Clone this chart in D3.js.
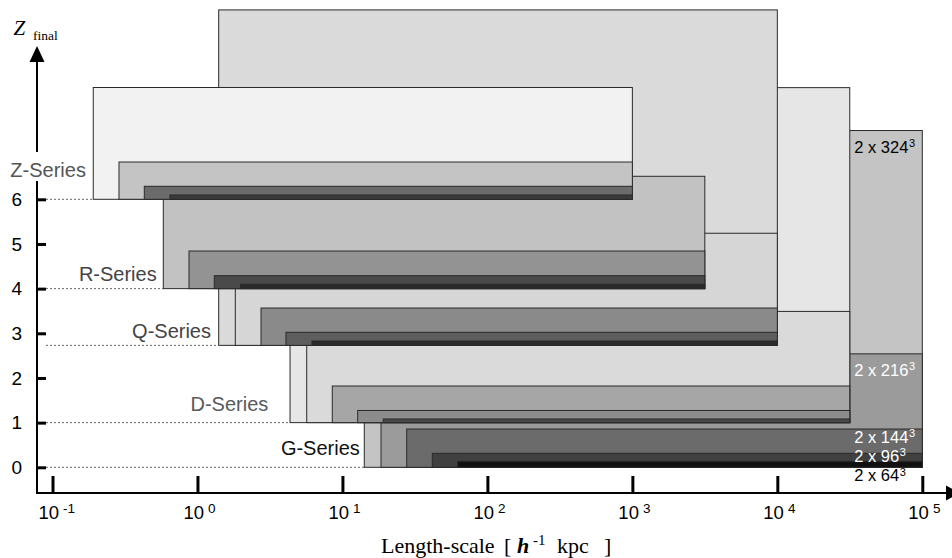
<!DOCTYPE html>
<html>
<head>
<meta charset="utf-8">
<script src="https://cdn.jsdelivr.net/npm/d3@7"></script>
<style>
  html, body { margin: 0; padding: 0; background: #fff; }
  svg { display: block; }
</style>
</head>
<body>
<svg id="chart" width="952" height="558"></svg>
<script>
// ---------------- DATA ----------------
const seriesNames = ["G-Series", "D-Series", "Q-Series", "R-Series", "Z-Series"];
const baselines   = [0, 1, 2.73, 4, 6];                       // Z_final
const boxSizes    = [1e5, 31600, 1e4, 3160, 1e3];             // h^-1 kpc (right edge)
const resolutions = ["2 x 324", "2 x 216", "2 x 144", "2 x 96", "2 x 64"];

// left edge (softening length, h^-1 kpc) per resolution 324,216,144,96,64
const gLeft = [14.15, 18.45, 27.76, 41.69, 62.40];
const dLeft = [4.35, 5.67, 8.51, 12.74, 19.13];
const qLeft = [1.401, 1.824, 2.743, 4.080, 6.166];
const rLeft = [null, 0.581, 0.874, 1.306, 1.987];
const zLeft = [null, 0.191, 0.2875, 0.4297, 0.646];

// top of each box (Z)
const gTop = [7.54, 2.54, 0.857, 0.313, 0.134];
const dTop = [8.50, 3.49, 1.82, 1.272, 1.081];
const qTop = [10.24, 5.24, 3.566, 3.022, 2.828];
const rTop = [null, 6.515, 4.842, 4.290, 4.097];
const zTop = [null, 8.503, 6.835, 6.291, 6.096];

const yTicks = [0, 1, 2, 3, 4, 5, 6];
const xTickExps = [-1, 0, 1, 2, 3, 4, 5];

// ---------------- STYLES ----------------
const gFill = ["#c4c4c4", "#9b9b9b", "#6b6b6b", "#404040", "#111111"];
const dFill = ["#e6e6e6", "#dadada", "#a6a6a6", "#8c8c8c", "#4a4a4a"];
const qFill = ["#dadada", "#d6d6d6", "#8a8a8a", "#5e5e5e", "#2a2a2a"];
const rFill = [null, "#c2c2c2", "#939393", "#4a4a4a", "#2a2a2a"];
const zFill = [null, "#f2f2f2", "#c4c4c4", "#6b6b6b", "#3a3a3a"];
const labelColors = ["#111", "#5a5a5a", "#444", "#444", "#555"];
const labelOffsets = [[-4.5, -12.3], [-21.7, -11.3], [-7.7, -7], [-6.6, -7.7], [-7.3, -22.6]];
const resLabelColors = ["#000", "#fff", "#fff", "#fff", "#000"];
const resLabelY = [152.5, 375.5, 442.5, 461.5, 481];

const lefts = [gLeft, dLeft, qLeft, rLeft, zLeft];
const tops  = [gTop, dTop, qTop, rTop, zTop];
const fills = [gFill, dFill, qFill, rFill, zFill];

// ---------------- SCALES ----------------
const svg = d3.select("#chart");
const x = d3.scaleLog().domain([0.1, 1e5]).range([52.5, 922.3]);
const y = d3.scaleLinear().domain([0, 6]).range([467.3, 199.3]);
const AX_X = 37, AX_Y = 493;

// ---------------- BOXES ----------------
const boxes = [];
seriesNames.forEach((name, s) => {
  lefts[s].forEach((l, r) => {
    if (l == null) return;
    boxes.push({ s, r, left: l, right: boxSizes[s], top: tops[s][r], base: baselines[s], fill: fills[s][r] });
  });
});

svg.append("g").selectAll("rect").data(boxes).join("rect")
  .attr("x", d => x(d.left))
  .attr("y", d => y(d.top))
  .attr("width", d => x(d.right) - x(d.left))
  .attr("height", d => y(d.base) - y(d.top))
  .attr("fill", d => d.fill)
  .attr("stroke", "#2a2a2a")
  .attr("stroke-width", 1);

// dotted baselines
svg.append("g").selectAll("line").data(seriesNames).join("line")
  .attr("x1", AX_X + 9)
  .attr("x2", (d, i) => x(d3.min(lefts[i].filter(v => v != null))))
  .attr("y1", (d, i) => y(baselines[i]))
  .attr("y2", (d, i) => y(baselines[i]))
  .attr("stroke", "#666")
  .attr("stroke-width", 1)
  .attr("stroke-dasharray", "2,2");

// ---------------- AXES ----------------
svg.append("line").attr("x1", AX_X).attr("x2", AX_X).attr("y1", AX_Y + 1).attr("y2", 60)
  .attr("stroke", "#000").attr("stroke-width", 2);
svg.append("path").attr("d", `M${AX_X},46 L${AX_X - 7.5},62 L${AX_X + 7.5},62 Z`).attr("fill", "#000");
svg.append("line").attr("x1", AX_X - 1).attr("x2", 947).attr("y1", AX_Y).attr("y2", AX_Y)
  .attr("stroke", "#000").attr("stroke-width", 2);
svg.append("path").attr("d", `M946,${AX_Y - 7.5} L946,${AX_Y + 7.5} L960,${AX_Y} Z`).attr("fill", "#000");

const yAxis = svg.append("g").attr("transform", `translate(${AX_X},0)`)
  .call(d3.axisLeft(y).tickValues(yTicks).tickSize(-9).tickPadding(15).tickFormat(d3.format("d")));
yAxis.select(".domain").remove();
yAxis.selectAll(".tick line").attr("stroke", "#000").attr("stroke-width", 3);
yAxis.selectAll(".tick text").attr("font-family", "Liberation Sans, Arial, sans-serif")
  .attr("font-size", 19).attr("fill", "#000");

const xAxis = svg.append("g").attr("transform", `translate(0,${AX_Y})`)
  .call(d3.axisBottom(x).tickValues(xTickExps.map(e => Math.pow(10, e))).tickSize(-17).tickFormat(""));
xAxis.select(".domain").remove();
xAxis.selectAll(".tick line").attr("stroke", "#000").attr("stroke-width", 3);

const xl = svg.append("g").selectAll("text").data(xTickExps).join("text")
  .attr("x", d => x(Math.pow(10, d)) - 14)
  .attr("y", 519)
  .attr("font-family", "Liberation Sans, Arial, sans-serif")
  .attr("font-size", 18.5)
  .attr("fill", "#000");
xl.append("tspan").text("10");
xl.append("tspan").attr("dx", 4).attr("dy", -6.5).attr("font-size", 13.5).text(d => d);

// x title
const xt = svg.append("text").attr("y", 553)
  .attr("font-family", "Liberation Serif, Times New Roman, serif").attr("font-size", 22).attr("fill", "#000");
xt.append("tspan").attr("x", 381).text("Length-scale");
xt.append("tspan").attr("x", 504).text("[");
xt.append("tspan").attr("x", 517).attr("font-weight", "bold").attr("font-style", "italic").text("h");
xt.append("tspan").attr("x", 533).attr("dy", -8).attr("font-size", 15).text("-1");
xt.append("tspan").attr("x", 557).attr("dy", 8).text("kpc");
xt.append("tspan").attr("x", 604).text("]");

// y title
svg.append("text").attr("x", 13.5).attr("y", 34.5)
  .attr("font-family", "Liberation Serif, Times New Roman, serif").attr("font-size", 21)
  .attr("font-style", "italic").text("Z");
svg.append("text").attr("x", 33).attr("y", 40)
  .attr("font-family", "Liberation Serif, Times New Roman, serif").attr("font-size", 13.5).text("final");

// ---------------- SERIES LABELS ----------------
svg.append("rect").attr("x", 6).attr("y", 152).attr("width", 84).attr("height", 29).attr("fill", "#fff");
svg.append("g").selectAll("text").data(seriesNames).join("text")
  .attr("x", (d, i) => x(d3.min(lefts[i].filter(v => v != null))) + labelOffsets[i][0])
  .attr("y", (d, i) => y(baselines[i]) + labelOffsets[i][1])
  .attr("text-anchor", "end")
  .attr("font-family", "Liberation Sans, Arial, sans-serif")
  .attr("font-size", 20)
  .attr("fill", (d, i) => labelColors[i])
  .text(d => d);

// ---------------- RESOLUTION LABELS ----------------
const rl = svg.append("g").selectAll("text").data(resolutions).join("text")
  .attr("x", x(31600) + 4.5)
  .attr("y", (d, i) => resLabelY[i])
  .attr("font-family", "Liberation Sans, Arial, sans-serif")
  .attr("font-size", 16.5)
  .attr("fill", (d, i) => resLabelColors[i]);
rl.append("tspan").text(d => d);
rl.append("tspan").attr("dx", 0.5).attr("dy", -5.5).attr("font-size", 11).text("3");
</script>
</body>
</html>
